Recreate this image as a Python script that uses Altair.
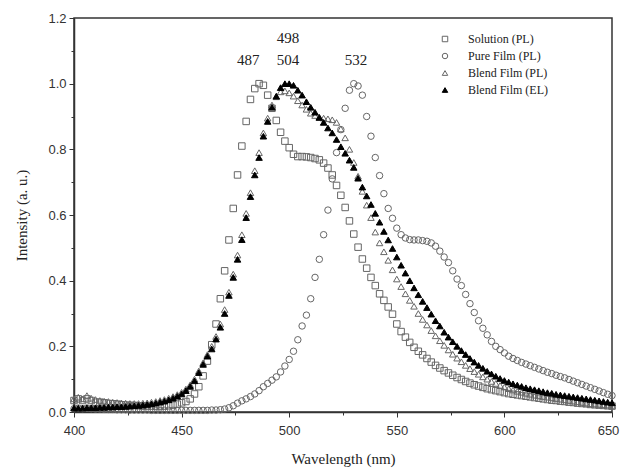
import altair as alt
import pandas as pd

wavelength = list(range(400, 651, 2))

solution_pl = [
    0.035, 0.040, 0.035, 0.040, 0.035, 0.030, 0.030, 0.028, 0.026, 0.025,
    0.024, 0.022, 0.021, 0.020, 0.020, 0.019, 0.018, 0.018, 0.018, 0.017,
    0.017, 0.018, 0.019, 0.021, 0.024, 0.028, 0.032, 0.040, 0.055, 0.077,
    0.110, 0.155, 0.205, 0.268, 0.345, 0.430, 0.524, 0.620, 0.722, 0.810,
    0.885, 0.952, 0.985, 1.000, 0.995, 0.965, 0.925, 0.888, 0.852, 0.825,
    0.805, 0.785, 0.778, 0.778, 0.777, 0.775, 0.772, 0.768, 0.758, 0.743,
    0.722, 0.690, 0.660, 0.623, 0.582, 0.542, 0.502, 0.466, 0.438, 0.410,
    0.385, 0.360, 0.340, 0.320, 0.298, 0.268, 0.245, 0.228, 0.212, 0.197,
    0.185, 0.174, 0.163, 0.152, 0.142, 0.134, 0.126, 0.119, 0.112, 0.105,
    0.099, 0.093, 0.088, 0.083, 0.079, 0.075, 0.071, 0.068, 0.065, 0.062,
    0.059, 0.056, 0.054, 0.052, 0.050, 0.048, 0.046, 0.044, 0.042, 0.040,
    0.038, 0.036, 0.035, 0.033, 0.032, 0.030, 0.029, 0.027, 0.026, 0.025,
    0.023, 0.022, 0.021, 0.020, 0.019, 0.018,
]

pure_film_pl = [
    0.010, 0.012, 0.010, 0.012, 0.010, 0.009, 0.009, 0.008, 0.008, 0.008,
    0.007, 0.007, 0.007, 0.006, 0.006, 0.006, 0.006, 0.006, 0.005, 0.005,
    0.005, 0.005, 0.005, 0.005, 0.005, 0.005, 0.005, 0.005, 0.005, 0.005,
    0.005, 0.005, 0.006, 0.006, 0.007, 0.009, 0.013, 0.019, 0.027, 0.034,
    0.040, 0.047, 0.055, 0.065, 0.077, 0.087, 0.097, 0.107, 0.122, 0.140,
    0.160, 0.185, 0.220, 0.262, 0.295, 0.345, 0.410, 0.465, 0.540, 0.615,
    0.710, 0.790, 0.860, 0.925, 0.980, 1.000, 0.993, 0.965, 0.900, 0.840,
    0.775, 0.720, 0.665, 0.620, 0.590, 0.560, 0.540, 0.530, 0.525, 0.524,
    0.524, 0.522, 0.520, 0.515, 0.505, 0.490, 0.472, 0.455, 0.430, 0.405,
    0.385, 0.358, 0.330, 0.303, 0.278, 0.255, 0.235, 0.215, 0.200, 0.190,
    0.180, 0.170, 0.163, 0.157, 0.151, 0.146, 0.141, 0.136, 0.131, 0.126,
    0.121, 0.117, 0.112, 0.108, 0.104, 0.099, 0.094, 0.089, 0.084, 0.079,
    0.074, 0.069, 0.064, 0.059, 0.054, 0.050,
]

blend_film_pl = [
    0.040, 0.045, 0.040, 0.050, 0.042, 0.038, 0.035, 0.033, 0.032, 0.030,
    0.029, 0.028, 0.027, 0.026, 0.026, 0.026, 0.027, 0.028, 0.030, 0.032,
    0.035, 0.038, 0.042, 0.047, 0.053, 0.060, 0.070, 0.083, 0.100, 0.125,
    0.150, 0.175, 0.200, 0.230, 0.268, 0.312, 0.365, 0.420, 0.478, 0.540,
    0.605, 0.668, 0.735, 0.790, 0.850, 0.895, 0.935, 0.960, 0.975, 0.978,
    0.972, 0.962, 0.948, 0.935, 0.922, 0.910, 0.903, 0.898, 0.895, 0.893,
    0.890, 0.882, 0.862, 0.835, 0.800, 0.760, 0.718, 0.672, 0.630, 0.592,
    0.548, 0.515, 0.488, 0.462, 0.433, 0.405, 0.382, 0.360, 0.340, 0.322,
    0.300, 0.282, 0.265, 0.248, 0.232, 0.217, 0.203, 0.189, 0.176, 0.164,
    0.153, 0.142, 0.132, 0.123, 0.115, 0.107, 0.100, 0.093, 0.087, 0.081,
    0.076, 0.071, 0.067, 0.063, 0.060, 0.057, 0.054, 0.051, 0.049, 0.047,
    0.045, 0.043, 0.041, 0.039, 0.037, 0.035, 0.033, 0.031, 0.029, 0.027,
    0.025, 0.024, 0.023, 0.022, 0.021, 0.020,
]

blend_film_el = [
    0.012, 0.012, 0.012, 0.013, 0.013, 0.013, 0.014, 0.014, 0.015, 0.015,
    0.016, 0.016, 0.017, 0.018, 0.019, 0.020, 0.021, 0.023, 0.025, 0.027,
    0.030, 0.033, 0.037, 0.042, 0.048, 0.055, 0.065, 0.078, 0.095, 0.120,
    0.145, 0.170, 0.192, 0.222, 0.258, 0.300, 0.355, 0.410, 0.465, 0.525,
    0.592, 0.656, 0.722, 0.775, 0.840, 0.885, 0.928, 0.962, 0.988, 1.000,
    1.000, 0.995, 0.980, 0.965, 0.945, 0.928, 0.913, 0.897, 0.882, 0.865,
    0.850, 0.830, 0.808, 0.788, 0.767, 0.745, 0.712, 0.685, 0.658, 0.632,
    0.605, 0.578, 0.550, 0.524, 0.498, 0.472, 0.447, 0.423, 0.400, 0.378,
    0.357, 0.337, 0.318, 0.298, 0.278, 0.262, 0.243, 0.228, 0.214, 0.200,
    0.187, 0.175, 0.163, 0.152, 0.142, 0.133, 0.124, 0.116, 0.109, 0.102,
    0.096, 0.091, 0.086, 0.082, 0.078, 0.074, 0.071, 0.068, 0.065, 0.062,
    0.059, 0.057, 0.054, 0.052, 0.050, 0.048, 0.046, 0.044, 0.042, 0.040,
    0.038, 0.036, 0.034, 0.032, 0.030, 0.028,
]

series_names = ["Solution (PL)", "Pure Film (PL)", "Blend Film (PL)", "Blend Film (EL)"]
series_values = [solution_pl, pure_film_pl, blend_film_pl, blend_film_el]

peak_labels = ["487", "498", "504", "532"]
peak_label_x = [481, 499.5, 499.5, 531]
peak_label_y = [1.072, 1.138, 1.072, 1.072]

x_major = [400, 450, 500, 550, 600, 650]
x_minor = [425, 475, 525, 575, 625]
y_major = [0.0, 0.2, 0.4, 0.6, 0.8, 1.0, 1.2]
y_minor = [0.1, 0.3, 0.5, 0.7, 0.9, 1.1]

rows = []
for name, vals in zip(series_names, series_values):
    for w, v in zip(wavelength, vals):
        rows.append({"Wavelength": w, "Intensity": v, "Series": name})
df = pd.DataFrame(rows)

labels_df = pd.DataFrame({"x": peak_label_x, "y": peak_label_y, "t": peak_labels})

xscale = alt.Scale(domain=[400, 650], nice=False, zero=False)
yscale = alt.Scale(domain=[0, 1.2], nice=False)

legend = alt.Legend(
    title=None, orient="none", legendX=365, legendY=15,
    labelFont="Liberation Serif", labelFontSize=12, labelColor="#222",
    symbolStrokeWidth=1, symbolSize=30, rowPadding=5, labelOffset=17, padding=0,
)

points = alt.Chart(df).mark_point(filled=False, size=42, strokeWidth=1, opacity=1).encode(
    x=alt.X("Wavelength:Q", scale=xscale,
            axis=alt.Axis(values=x_major, title="Wavelength (nm)", tickSize=5, format="d",
                          labelFlush=False, labelPadding=7, titlePadding=14,
                          labelOffset=alt.expr("datum.value == 650 ? -4 : 0"))),
    y=alt.Y("Intensity:Q", scale=yscale,
            axis=alt.Axis(values=y_major, title="Intensity (a. u.)", tickSize=5, format=".1f",
                          labelFlush=False, titlePadding=18)),
    shape=alt.Shape("Series:N", scale=alt.Scale(domain=series_names,
                    range=["square", "circle", "triangle-up", "triangle-up"]), legend=legend),
    stroke=alt.Stroke("Series:N", scale=alt.Scale(domain=series_names,
                      range=["#666666", "#666666", "#666666", "#000000"]), legend=legend),
    fill=alt.Fill("Series:N", scale=alt.Scale(domain=series_names,
                  range=["transparent", "transparent", "transparent", "#000000"]), legend=legend),
)

texts = alt.Chart(labels_df).mark_text(font="Liberation Serif", fontSize=15, color="#222",
                                       baseline="middle", align="center").encode(
    x=alt.X("x:Q", scale=xscale, axis=None),
    y=alt.Y("y:Q", scale=yscale, axis=None),
    text="t:N",
)

minor_x = alt.Chart(pd.DataFrame({"v": x_minor})).mark_tick(opacity=0).encode(
    x=alt.X("v:Q", scale=xscale,
            axis=alt.Axis(values=x_minor, labels=False, title=None, domain=False,
                          tickSize=3, orient="bottom")),
)
minor_y = alt.Chart(pd.DataFrame({"v": y_minor})).mark_tick(opacity=0).encode(
    y=alt.Y("v:Q", scale=yscale,
            axis=alt.Axis(values=y_minor, labels=False, title=None, domain=False,
                          tickSize=3, orient="left")),
)

chart = alt.layer(points, texts, minor_x, minor_y).resolve_axis(
    x="independent", y="independent"
).properties(
    width=538, height=394,
    autosize=alt.AutoSizeParams(type="none"),
    padding={"left": 74, "top": 18, "right": 8, "bottom": 62},
).configure_view(
    stroke="#333333", strokeWidth=1.5,
).configure_axis(
    labelFont="Liberation Sans", labelFontSize=13, labelColor="#333",
    titleFont="Liberation Serif", titleFontSize=15, titleColor="#222", titleFontWeight="normal",
    domainColor="#333", tickColor="#333", domainWidth=1.5, tickWidth=1, grid=False,
    labelPadding=3,
)

chart.save("out.html", embed_options={"renderer": "svg", "actions": False})
